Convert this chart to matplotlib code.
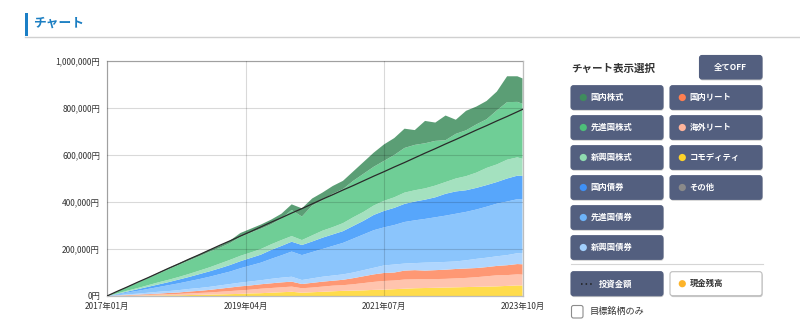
import numpy as np
import matplotlib
matplotlib.use('Agg')
import matplotlib.pyplot as plt
from matplotlib.patches import FancyBboxPatch, Rectangle, Circle
from matplotlib.ticker import FuncFormatter

plt.rcParams['font.family'] = ['Noto Sans CJK JP', 'DejaVu Sans']

# 2017年01月からの経過月 (2か月おき + 最終月)
months = np.append(np.arange(0, 81, 2), 81)
tick_pos = [0, 27, 54, 81]
tick_labels = ['2017年01月', '2019年04月', '2021年07月', '2023年10月']

# 評価額 (千円)  下の層から順に
commodity = [0, 0, 1, 1, 2, 2, 3, 3, 4, 5, 6, 7, 8, 9, 11, 12, 14, 16, 18, 14, 16,
             18, 20, 22, 23, 24, 26, 27, 29, 31, 33, 34, 35, 36, 37, 38, 39, 40, 41, 43, 45, 45]
kaigai_reit = [0, 1, 1, 2, 3, 4, 4, 6, 7, 8, 9, 11, 13, 15, 16, 19, 20, 21, 22, 19, 20,
               22, 24, 24, 27, 31, 34, 37, 37, 39, 38, 38, 37, 37, 38, 39, 41, 44, 47, 46, 47, 46]
kokunai_reit = [0, 1, 2, 3, 3, 4, 6, 6, 8, 9, 11, 13, 15, 17, 18, 19, 20, 21, 21, 18, 20,
                21, 21, 23, 26, 29, 32, 34, 34, 38, 39, 36, 38, 39, 40, 40, 39, 39, 40, 42, 44, 44]
shinko_sai = [0, 1, 3, 4, 6, 8, 8, 10, 11, 12, 13, 14, 15, 16, 17, 17, 19, 20, 21, 17, 19,
              21, 22, 23, 24, 26, 28, 32, 34, 30, 30, 34, 33, 33, 32, 35, 39, 40, 41, 43, 46, 48]
senshin_sai = [0, 4, 8, 12, 16, 20, 25, 29, 33, 38, 43, 48, 53, 61, 68, 75, 85, 95, 107, 106, 112,
               118, 126, 134, 144, 152, 160, 162, 168, 177, 182, 186, 192, 197, 203, 206, 210, 217, 224, 228, 230, 228]
kokunai_sai = [0, 2, 4, 7, 9, 11, 13, 16, 18, 21, 23, 25, 28, 30, 32, 34, 38, 40, 42, 43, 45,
               48, 49, 50, 54, 58, 65, 70, 73, 77, 80, 82, 85, 93, 95, 92, 92, 92, 92, 98, 100, 100]
shinko_kabu = [0, 2, 4, 5, 7, 9, 10, 11, 13, 15, 17, 20, 22, 23, 23, 24, 24, 25, 24, 21, 26,
               30, 31, 34, 37, 38, 40, 43, 45, 48, 48, 48, 50, 50, 55, 60, 65, 73, 75, 80, 78, 73]
senshin_kabu = [0, 8, 15, 23, 30, 37, 45, 52, 57, 61, 66, 67, 71, 81, 85, 86, 85, 92, 111, 100, 127,
                130, 142, 145, 155, 162, 165, 170, 180, 190, 193, 192, 190, 178, 190, 195, 205, 207, 230, 245, 236, 234]
kokunai_kabu = [0, 1, 2, 2, 3, 4, 5, 6, 7, 8, 9, 9, 11, 16, 16, 18, 20, 20, 24, 35, 30,
                32, 33, 35, 40, 50, 60, 70, 72, 82, 63, 95, 78, 105, 60, 83, 76, 78, 80, 110, 109, 108]

# 投資金額 (千円)
toshi = [0, 20, 39, 59, 78, 98, 118, 137, 157, 176, 196, 216, 235, 255, 274, 294, 314, 333, 353, 372, 392,
         412, 431, 451, 470, 490, 510, 529, 549, 568, 588, 608, 627, 647, 666, 686, 706, 725, 745, 764, 784, 794]

stack = [commodity, kaigai_reit, kokunai_reit, shinko_sai, senshin_sai,
         kokunai_sai, shinko_kabu, senshin_kabu, kokunai_kabu]
stack_colors = ['#ffdc4c', '#ffc4ae', '#fe9874', '#afd6fe', '#8bc5fc',
                '#57a6fb', '#a4e1bf', '#6fce96', '#5b9e75']

left_btns = ['国内株式', '先進国株式', '新興国株式', '国内債券', '先進国債券', '新興国債券']
left_dots = ['#3f8c5d', '#4dbf79', '#8fdcb0', '#3f90f5', '#6db3f8', '#a2d0fd']
right_btns = ['国内リート', '海外リート', 'コモディティ', 'その他']
right_dots = ['#ff7f50', '#ffb49b', '#ffd42a', '#8a8a8a']

BTN = '#535f7f'

fig = plt.figure(figsize=(8, 3.25), dpi=100)

# 画面部品は画素座標で描く
ui = fig.add_axes([0, 0, 1, 1])
ui.set_xlim(0, 800)
ui.set_ylim(325, 0)
ui.axis('off')

ui.add_patch(Rectangle((25, 13), 3, 23, fc='#1b7fc6', ec='none'))
ui.plot([25, 800], [36.5, 36.5], color='#d0d0d0', lw=1)
ui.text(33.5, 23.5, 'チャート', fontsize=9.2, fontweight='bold', color='#1b7ec2', va='center')


def button(x, y, w, h, face=BTN, edge=None):
    ui.add_patch(FancyBboxPatch((x + 0.6, y + 1.4), w, h, boxstyle='round,pad=0,rounding_size=2.5',
                                fc='#c9c9c9', ec='none'))
    ui.add_patch(FancyBboxPatch((x, y), w, h, boxstyle='round,pad=0,rounding_size=2.5',
                                fc=face, ec=edge if edge else face, lw=0.8))


ui.text(571.5, 68.5, 'チャート表示選択', fontsize=7.6, fontweight='bold', color='#333333', va='center')
button(699.5, 55.5, 62.5, 23.5)
ui.text(730.8, 67.5, '全てOFF', fontsize=6, fontweight='bold', color='white', va='center', ha='center')

row_top = [85.7, 115.7, 145.7, 175.7, 205.7, 235.7]
for i, (name, c) in enumerate(zip(left_btns, left_dots)):
    y = row_top[i]
    button(571, y, 92, 23.6)
    ui.add_patch(Circle((583.3, y + 11.8), 3.6, fc=c, ec='none'))
    ui.text(590.5, y + 12, name, fontsize=6, fontweight='bold', color='white', va='center')
for i, (name, c) in enumerate(zip(right_btns, right_dots)):
    y = row_top[i]
    button(670, y, 92, 23.6)
    ui.add_patch(Circle((682.3, y + 11.8), 3.6, fc=c, ec='none'))
    ui.text(689.5, y + 12, name, fontsize=6, fontweight='bold', color='white', va='center')

ui.plot([571, 763], [264.3, 264.3], color='#d5d5d5', lw=0.8)

button(571, 271.7, 92, 24)
ui.plot([580.5, 593.5], [283.6, 283.6], color='#1e1e1e', lw=1.1, ls=(0, (1, 2)))
ui.text(599, 283.8, '投資金額', fontsize=6, fontweight='bold', color='white', va='center')
button(670, 271.7, 92, 24, face='white', edge='#bdbdbd')
ui.add_patch(Circle((682.3, 283.7), 3.6, fc='#fdb42a', ec='none'))
ui.text(689.5, 283.8, '現金残高', fontsize=6, fontweight='bold', color='#333333', va='center')

ui.add_patch(FancyBboxPatch((571.5, 305.5), 11.5, 12.5, boxstyle='round,pad=0,rounding_size=2',
                            fc='white', ec='#8c8c8c', lw=0.8))
ui.text(590, 311.8, '目標銘柄のみ', fontsize=6.6, color='#333333', va='center')

# チャート本体
ax = fig.add_axes([107 / 800, 29 / 325, 415.5 / 800, 235 / 325])
ax.stackplot(months, *[np.array(s) * 1000 for s in stack], colors=stack_colors,
             linewidth=0, antialiased=True)
ax.plot(months, np.array(toshi) * 1000, color='#2a2a2a', lw=0.9, zorder=5)

ax.set_xlim(0, 81)
ax.set_ylim(0, 1000000)
ax.set_xticks(tick_pos)
ax.set_xticklabels(tick_labels)
ax.set_yticks(range(0, 1000001, 200000))
ax.yaxis.set_major_formatter(FuncFormatter(lambda v, _: f'{int(v):,}円'))
ax.tick_params(length=0, labelsize=6, colors='#333333')
ax.tick_params(axis='y', pad=5)
ax.tick_params(axis='x', pad=4)
ax.set_axisbelow(False)
ax.grid(True, color='black', alpha=0.15, lw=0.8)
for sp in ax.spines.values():
    sp.set_color('#bdbdbd')
    sp.set_linewidth(0.9)

fig.savefig('out.png', dpi=100)
